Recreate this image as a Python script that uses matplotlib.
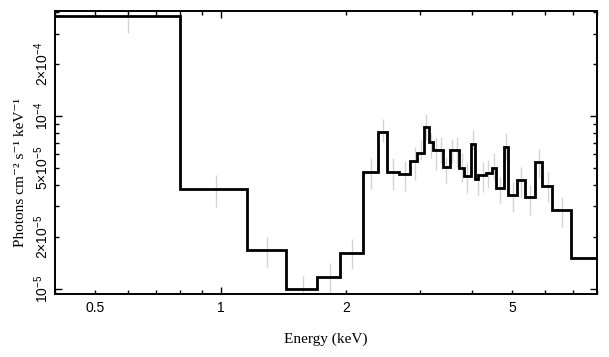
#!/usr/bin/env python3
"""Unfolded X-ray spectrum: step model with data error bars."""

import matplotlib

matplotlib.use("Agg")
import matplotlib.pyplot as plt
from matplotlib.ticker import FixedLocator, FixedFormatter

plt.rcParams["mathtext.fontset"] = "custom"
plt.rcParams["mathtext.rm"] = "Liberation Sans"
plt.rcParams["mathtext.it"] = "Liberation Sans:italic"

# bin edges (keV) and model flux per bin (photons cm^-2 s^-1 keV^-1)
edges = [0.4, 0.8, 1.155, 1.437, 1.706, 1.935, 2.19, 2.38, 2.502, 2.685, 2.842,
         2.962, 3.079, 3.159, 3.231, 3.408, 3.549, 3.731, 3.837, 3.997, 4.087,
         4.147, 4.327, 4.466, 4.581, 4.774, 4.897, 5.131, 5.372, 5.679, 5.912,
         6.241, 6.934, 8.0]
flux = [3.79e-4, 3.77e-5, 1.68e-5, 9.96e-6, 1.18e-5, 1.61e-5, 4.74e-5, 8.08e-5,
        4.73e-5, 4.6e-5, 5.5e-5, 6.09e-5, 8.6e-5, 7.1e-5, 6.36e-5, 5.09e-5,
        6.36e-5, 4.99e-5, 4.48e-5, 6.92e-5, 4.32e-5, 4.54e-5, 4.66e-5, 5.03e-5,
        3.82e-5, 6.62e-5, 3.48e-5, 4.26e-5, 3.4e-5, 5.4e-5, 3.94e-5, 2.87e-5,
        1.5e-5]

# data error bars (energy, low, high)
err_e = [0.600, 0.976, 1.293, 1.573, 1.824, 2.061, 2.293, 2.447, 2.593, 2.765,
         2.923, 3.017, 3.107, 3.189, 3.284, 3.383, 3.478, 3.584, 3.685, 3.794,
         3.910, 4.042, 4.147, 4.272, 4.382, 4.530, 4.685, 4.842, 5.017, 5.253,
         5.512, 5.797, 6.087, 6.586]
err_lo = [3.02e-4, 2.99e-5, 1.335e-5, 8.5e-6, 8.5e-6, 1.30e-5, 3.77e-5, 7.1e-5,
          3.74e-5, 3.70e-5, 4.26e-5, 5.57e-5, 7.27e-5, 5.72e-5, 4.87e-5, 5.35e-5,
          4.08e-5, 5.33e-5, 5.09e-5, 4.17e-5, 3.60e-5, 6.36e-5, 3.49e-5, 3.65e-5,
          3.82e-5, 4.26e-5, 3.13e-5, 5.57e-5, 2.80e-5, 3.42e-5, 2.68e-5, 4.46e-5,
          3.18e-5, 2.28e-5]
err_hi = [4.5e-4, 4.56e-5, 2.006e-5, 1.189e-5, 1.419e-5, 1.94e-5, 5.69e-5, 9.57e-5,
          5.69e-5, 5.51e-5, 6.59e-5, 7.27e-5, 1.027e-4, 7.97e-5, 7.59e-5, 7.53e-5,
          5.82e-5, 7.33e-5, 7.59e-5, 6.14e-5, 5.44e-5, 8.30e-5, 4.68e-5, 5.44e-5,
          5.57e-5, 6.09e-5, 4.46e-5, 8.0e-5, 4.17e-5, 5.09e-5, 3.99e-5, 6.42e-5,
          4.76e-5, 3.42e-5]

x_major = [1]
x_minor = [0.4, 0.5, 0.6, 0.7, 0.8, 0.9, 2, 3, 4, 5, 6, 7, 8]
x_minor_labels = ["", "0.5", "", "", "", "", "2", "", "", "5", "", "", ""]
y_major = [1e-5, 1e-4]
y_major_labels = [r"$10^{-5}$", r"$10^{-4}$"]
y_minor = [2e-5, 3e-5, 4e-5, 5e-5, 6e-5, 7e-5, 8e-5, 9e-5, 2e-4, 3e-4, 4e-4]
y_minor_labels = [r"$2{\times}10^{-5}$", "", "", r"$5{\times}10^{-5}$", "", "", "",
                  "", r"$2{\times}10^{-4}$", "", ""]


def main():
    fig = plt.figure(figsize=(6.09, 3.57), dpi=100)
    ax = fig.add_axes([0.0903, 0.1765, 0.8900, 0.7927])

    ax.vlines(err_e, err_lo, err_hi, color="#d4d4d4", lw=1.0, zorder=1)
    ax.stairs(flux, edges, color="black", lw=2.0, baseline=None, zorder=3)

    ax.set_xscale("log")
    ax.set_yscale("log")
    ax.set_xlim(0.4, 8.0)
    ax.set_ylim(9.35e-6, 4.05e-4)

    ax.xaxis.set_major_locator(FixedLocator(x_major))
    ax.xaxis.set_major_formatter(FixedFormatter(["1"]))
    ax.xaxis.set_minor_locator(FixedLocator(x_minor))
    ax.xaxis.set_minor_formatter(FixedFormatter(x_minor_labels))
    ax.yaxis.set_major_locator(FixedLocator(y_major))
    ax.yaxis.set_major_formatter(FixedFormatter(y_major_labels))
    ax.yaxis.set_minor_locator(FixedLocator(y_minor))
    ax.yaxis.set_minor_formatter(FixedFormatter(y_minor_labels))

    ax.tick_params(which="both", direction="in", top=True, right=True,
                   labelsize=10, width=1.0, pad=5)
    ax.tick_params(which="major", length=5)
    ax.tick_params(which="minor", length=3)
    ax.tick_params(axis="y", which="both", labelrotation=90, pad=3)
    for lab in ax.get_yticklabels(which="both"):
        lab.set_fontfamily("Liberation Sans")
        lab.set_va("center")
    for lab in ax.get_xticklabels(which="both"):
        lab.set_fontfamily("Liberation Sans")

    for sp in ax.spines.values():
        sp.set_linewidth(1.4)

    serif = ["Liberation Serif", "DejaVu Serif"]
    ax.set_xlabel("Energy (keV)", family=serif, fontsize=11, labelpad=13)
    ax.set_ylabel("Photons cm\u207b\u00b2 s\u207b\u00b9 keV\u207b\u00b9",
                  family=serif, fontsize=11)
    ax.yaxis.set_label_coords(-0.052, 0.43)

    fig.savefig("out.png", dpi=100)
    plt.close(fig)


if __name__ == "__main__":
    main()
